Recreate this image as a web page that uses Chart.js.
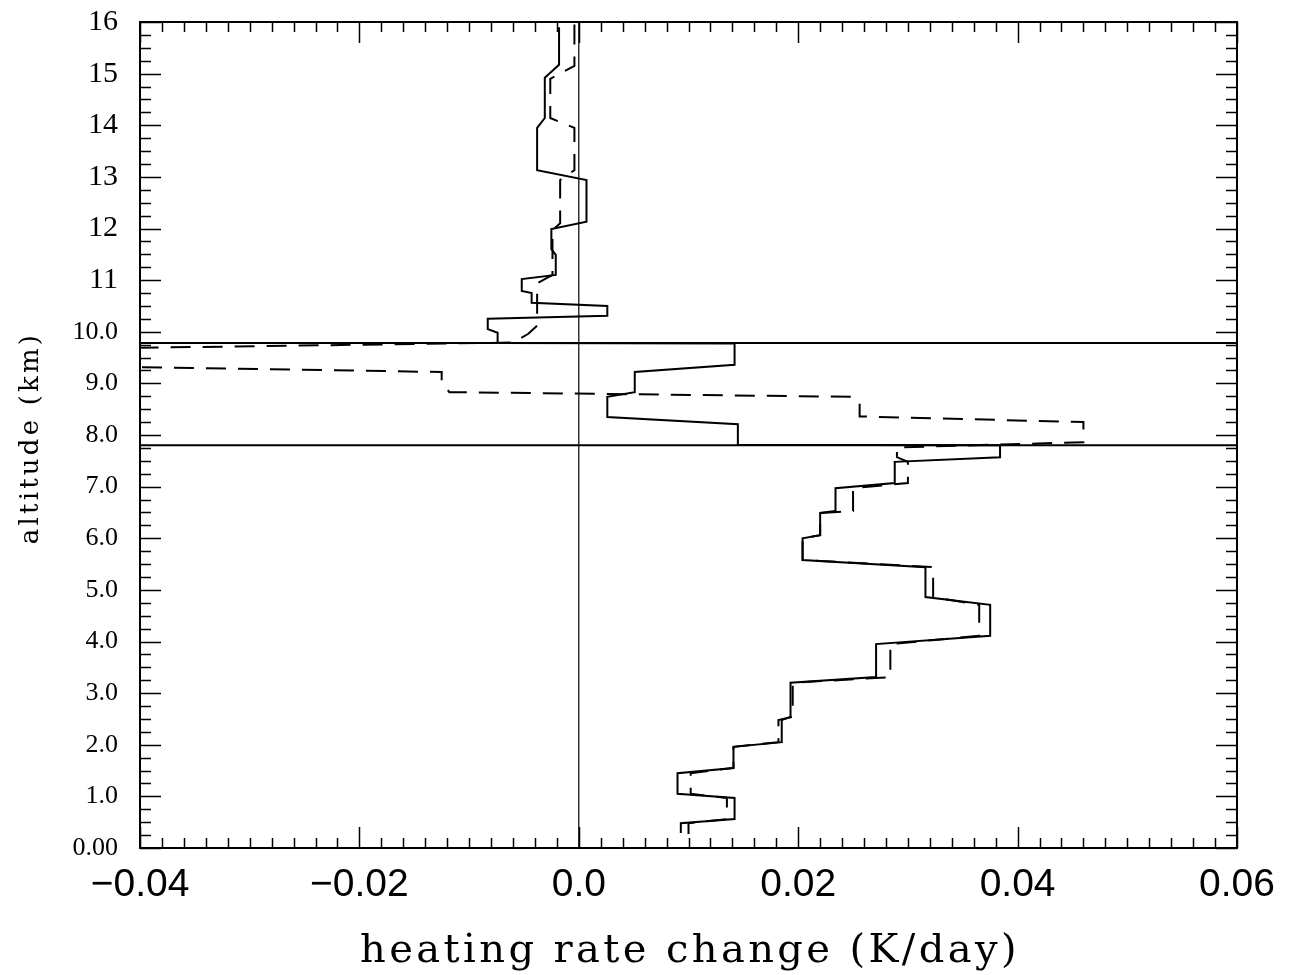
<!DOCTYPE html>
<html>
<head>
<meta charset="utf-8">
<script src="https://cdn.jsdelivr.net/npm/chart.js@4.4.1/dist/chart.umd.min.js"></script>
<style>
  html, body { margin: 0; padding: 0; background: #ffffff; }
  #wrap { width: 1297px; height: 975px; position: relative; }
</style>
</head>
<body>
<div id="wrap"><canvas id="c" width="1297" height="975"></canvas></div>
<script>
// Heating-rate change profiles (K/day) against altitude (km), stepped by layer.
const solidRate = [
  -0.0018, -0.0018, -0.0031, -0.0031, -0.0038, -0.0038, 0.0007, 0.0007,
  -0.0025, -0.0025, -0.0021, -0.0021, -0.0052, -0.0052, -0.0043, -0.0043,
  0.0026, 0.0026, -0.0083, -0.0083, -0.0074, -0.0074,
  0.0142, 0.0142, 0.0051, 0.0051, 0.0026, 0.0026, 0.0145, 0.0145,
  0.0384, 0.0384, 0.0288, 0.0288, 0.0234, 0.0234, 0.0220, 0.0220,
  0.0204, 0.0204, 0.0316, 0.0316, 0.0375, 0.0375, 0.0271, 0.0271,
  0.0193, 0.0193, 0.0185, 0.0185, 0.0141, 0.0141, 0.0090, 0.0090,
  0.0142, 0.0142, 0.0093, 0.0093
];
const solidAlt = [
  15.90, 15.17, 14.92, 14.14, 13.95, 13.13, 12.94, 12.13,
  11.99, 11.60, 11.49, 11.10, 11.02, 10.79, 10.75, 10.56,
  10.50, 10.31, 10.25, 10.05, 9.98, 9.78,
  9.77, 9.36, 9.22, 8.83, 8.74, 8.35, 8.21, 7.81,
  7.80, 7.57, 7.48, 7.07, 6.97, 6.53, 6.49, 6.06,
  6.00, 5.58, 5.44, 4.86, 4.71, 4.11, 3.95, 3.31,
  3.20, 2.54, 2.48, 2.05, 1.96, 1.55, 1.45, 1.05,
  0.97, 0.56, 0.48, 0.29
];
const dashRate = [
  -0.0004, -0.0004, -0.0026, -0.0026, -0.0004, -0.0004, -0.0017, -0.0017,
  -0.0024, -0.0024, -0.0038, -0.0038, -0.0046, -0.0060, -0.0500, -0.0500,
  -0.0125, -0.0125, -0.0118, 0.0250, 0.0256, 0.0256, 0.0460, 0.0460,
  0.0290, 0.0290, 0.0300, 0.0300, 0.0250, 0.0250, 0.0220, 0.0220,
  0.0204, 0.0204, 0.0323, 0.0323, 0.0365, 0.0365, 0.0284, 0.0284,
  0.0195, 0.0195, 0.0182, 0.0182, 0.0141, 0.0141, 0.0102, 0.0102,
  0.0135, 0.0135, 0.0100, 0.0100
];
const dashAlt = [
  15.95, 15.15, 14.90, 14.14, 13.95, 13.13, 12.94, 12.10,
  11.97, 11.10, 10.94, 10.12, 9.96, 9.79, 9.66, 9.35,
  9.22, 9.02, 8.83, 8.74, 8.62, 8.36, 8.25, 7.86,
  7.76, 7.57, 7.48, 7.07, 6.97, 6.53, 6.49, 6.06,
  6.00, 5.58, 5.44, 4.86, 4.71, 4.11, 3.95, 3.31,
  3.20, 2.54, 2.48, 2.05, 1.96, 1.55, 1.45, 1.05,
  0.97, 0.56, 0.48, 0.27
];
const layerBounds = [7.80, 9.78];          // altitudes of the horizontal marker lines (km)

const xTickValues = [-0.04, -0.02, 0, 0.02, 0.04, 0.06];
const xTickLabels = ['\u22120.04', '\u22120.02', '0.0', '0.02', '0.04', '0.06'];
const yTickValues = [0, 1, 2, 3, 4, 5, 6, 7, 8, 9, 10, 11, 12, 13, 14, 15, 16];
const yTickLabels = ['0.00', '1.0', '2.0', '3.0', '4.0', '5.0', '6.0', '7.0', '8.0', '9.0',
                     '10.0', '11', '12', '13', '14', '15', '16'];
const xMinorStep = 0.002;
const yMinorStep = 0.25;

const X_MIN = -0.04, X_MAX = 0.06, Y_MIN = 0, Y_MAX = 16;

const toPoints = (xs, ys) => xs.map((x, i) => ({ x: x, y: ys[i] }));

const datasets = [
  {
    label: 'profile A',
    data: toPoints(solidRate, solidAlt),
    borderColor: '#000', borderWidth: 2, pointRadius: 0, showLine: true
  },
  {
    label: 'profile B',
    data: toPoints(dashRate, dashAlt),
    borderColor: '#000', borderWidth: 2, borderDash: [20, 12], pointRadius: 0, showLine: true
  },
  {
    label: 'zero',
    data: [{ x: 0, y: Y_MIN }, { x: 0, y: Y_MAX }],
    borderColor: '#000', borderWidth: 1.2, pointRadius: 0, showLine: true
  }
];
layerBounds.forEach((b, i) => {
  datasets.push({
    label: 'bound ' + i,
    data: [{ x: X_MIN, y: b }, { x: X_MAX, y: b }],
    borderColor: '#000', borderWidth: 2, pointRadius: 0, showLine: true
  });
});

// Frame, inward tick marks and axis titles
const framePlugin = {
  id: 'frame',
  afterDatasetsDraw(chart) {
    const { ctx, chartArea: a, scales } = chart;
    const xs = scales.x, ys = scales.y;
    ctx.save();
    ctx.strokeStyle = '#000';
    ctx.lineWidth = 2;
    ctx.strokeRect(a.left, a.top, a.right - a.left, a.bottom - a.top);

    ctx.lineWidth = 1.5;
    ctx.beginPath();
    const nx = Math.round((X_MAX - X_MIN) / xMinorStep);
    for (let i = 0; i <= nx; i++) {
      const v = X_MIN + i * xMinorStep;
      const px = Math.round(xs.getPixelForValue(v)) + 0.5;
      const len = (i % 10 === 0) ? 21 : 10;
      ctx.moveTo(px, a.bottom); ctx.lineTo(px, a.bottom - len);
      ctx.moveTo(px, a.top); ctx.lineTo(px, a.top + len);
    }
    const ny = Math.round((Y_MAX - Y_MIN) / yMinorStep);
    for (let i = 0; i <= ny; i++) {
      const v = Y_MIN + i * yMinorStep;
      const py = Math.round(ys.getPixelForValue(v)) + 0.5;
      const len = (i % 4 === 0) ? 21 : 11;
      ctx.moveTo(a.left, py); ctx.lineTo(a.left + len, py);
      ctx.moveTo(a.right, py); ctx.lineTo(a.right - len, py);
    }
    ctx.stroke();

    ctx.fillStyle = '#000';
    ctx.textAlign = 'center';
    ctx.textBaseline = 'alphabetic';
    ctx.font = '40px "DejaVu Serif", serif';
    if ('letterSpacing' in ctx) ctx.letterSpacing = '3.4px';
    ctx.fillText('heating rate change (K/day)', 690, 962);

    ctx.translate(38, 438);
    ctx.rotate(-Math.PI / 2);
    ctx.font = '26px "DejaVu Serif", serif';
    if ('letterSpacing' in ctx) ctx.letterSpacing = '3.2px';
    ctx.fillText('altitude (km)', 0, 0);
    ctx.restore();
  }
};

new Chart(document.getElementById('c'), {
  type: 'scatter',
  data: { datasets },
  options: {
    responsive: false,
    animation: false,
    devicePixelRatio: 1,
    layout: { padding: { left: 0, top: 22, right: 60, bottom: 0 } },
    plugins: { legend: { display: false }, tooltip: { enabled: false } },
    scales: {
      x: {
        type: 'linear', min: X_MIN, max: X_MAX,
        afterBuildTicks: s => { s.ticks = xTickValues.map(v => ({ value: v })); },
        afterFit: s => { s.height = 127; s.paddingLeft = 0; s.paddingRight = 0; },
        grid: { drawOnChartArea: false, drawTicks: false },
        border: { display: false },
        ticks: {
          autoSkip: false, maxRotation: 0, padding: 14, color: '#000',
          font: { family: '"Liberation Sans", sans-serif', size: 39 },
          callback: (v, i) => xTickLabels[i]
        }
      },
      y: {
        type: 'linear', min: Y_MIN, max: Y_MAX,
        afterBuildTicks: s => { s.ticks = yTickValues.map(v => ({ value: v })); },
        afterFit: s => { s.width = 140; s.paddingTop = 0; s.paddingBottom = 0; },
        grid: { drawOnChartArea: false, drawTicks: false },
        border: { display: false },
        ticks: {
          autoSkip: false, padding: 22, color: '#000',
          font: c => ({
            family: '"Liberation Serif", serif',
            size: yTickLabels[c.index] && yTickLabels[c.index].indexOf('.') >= 0 ? 26 : 30
          }),
          callback: (v, i) => yTickLabels[i]
        }
      }
    }
  },
  plugins: [framePlugin]
});
</script>
</body>
</html>
